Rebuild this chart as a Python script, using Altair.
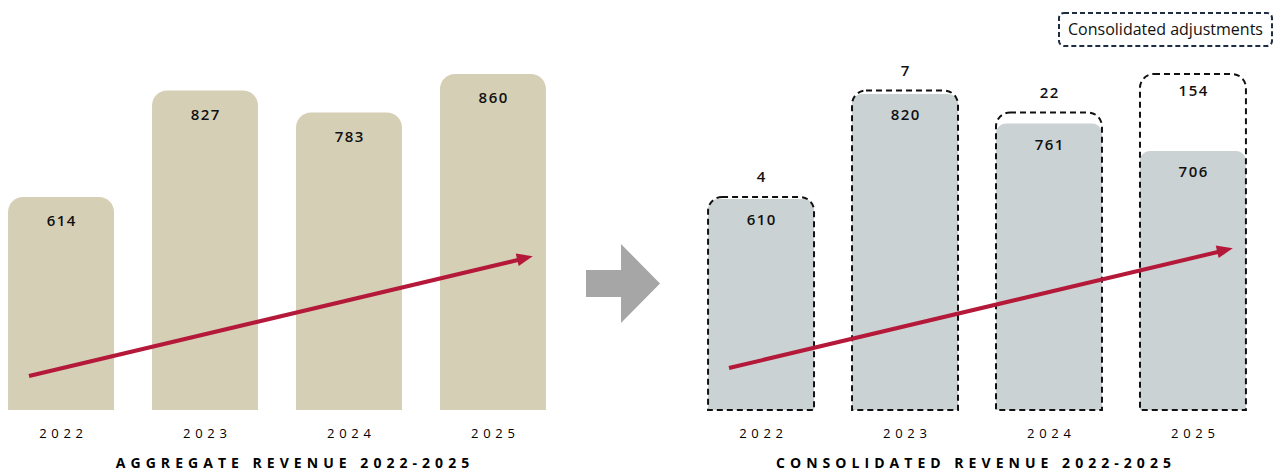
import altair as alt
import pandas as pd

# ---- data ----
years = ["2022", "2023", "2024", "2025"]
aggregate = [614, 827, 783, 860]
consolidated = [610, 820, 761, 706]
adjustments = [4, 7, 22, 154]
titles = ["AGGREGATE REVENUE 2022-2025", "CONSOLIDATED REVENUE 2022-2025"]
legend_label = "Consolidated adjustments"

# ---- style / layout ----
BASE, TOP = 188, 1008
PANEL_W, PANEL_H, GAP_W = 554, 410, 146
FONT = "Open Sans"
TAN, GREY, RED, ARROW_GREY = "#D5CFB6", "#CBD2D4", "#B5193A", "#A6A6A6"
INK, NAVY = "#111111", "#1F2D44"
SEP = " \u200a"


def spaced(s):
    return SEP.join(ch if ch != " " else "\u00a0" for ch in s)


def x_enc(title, title_x):
    return alt.X(
        "year:N",
        sort=years,
        scale=alt.Scale(paddingInner=0.264, paddingOuter=0.056),
        axis=alt.Axis(
            title=spaced(title), titleX=title_x, labelAngle=0, domain=False, ticks=False,
            tickSize=0, labelExpr="join(split(datum.label, ''), ' \u200a')",
            labelPadding=17, titlePadding=16,
            labelFont=FONT, labelFontSize=13, labelColor="#000000",
            titleFont=FONT, titleFontSize=14, titleFontWeight="bold", titleColor="#000000",
        ),
    )


yscale = alt.Scale(domain=[BASE, TOP], zero=False, nice=False)
SPACE_EXPR = "join(split(toString({f}), ''), '\u200a')"

# ---- left panel ----
left_df = pd.DataFrame({"year": years, "value": aggregate})
lbase = alt.Chart(left_df).transform_calculate(
    base=str(BASE), vlabel=SPACE_EXPR.format(f="datum.value")
)
left_bars = lbase.mark_bar(color=TAN, cornerRadiusTopLeft=15, cornerRadiusTopRight=15).encode(
    x=x_enc(titles[0], 292), y=alt.Y("value:Q", scale=yscale, axis=None), y2="base:Q"
)
left_text = lbase.mark_text(dy=24, font=FONT, fontSize=15, fontWeight=600, color=INK).encode(
    x="year:N", y=alt.Y("value:Q", scale=yscale), text="vlabel:N"
)


def trend_arrow(y0, y1, tipy):
    d = pd.DataFrame({"k": [0]})
    line = alt.Chart(d).mark_rule(color=RED, strokeWidth=4).encode(
        x=alt.value(29), x2=alt.value(522), y=alt.value(y0), y2=alt.value(y1)
    )
    head = alt.Chart(d).mark_point(
        shape="M-1,-0.8 L1,0 L-1,0.8 Z", size=256, filled=True, fill=RED, stroke=None,
        opacity=1, angle=346.8,
    ).encode(x=alt.value(525), y=alt.value(tipy))
    return line + head


left = alt.layer(left_bars, left_text, trend_arrow(376, 259, 258)).properties(
    width=PANEL_W, height=PANEL_H
)

# ---- middle arrow ----
mid = alt.Chart(pd.DataFrame({"k": [0]})).mark_point(
    shape="M-0.937,-0.34 L-0.05,-0.34 L-0.05,-1 L0.937,0 L-0.05,1 L-0.05,0.34 L-0.937,0.34 Z",
    size=6241, filled=True, fill=ARROW_GREY, stroke=None, opacity=1,
).encode(x=alt.value(69), y=alt.value(283.5)).properties(width=GAP_W, height=PANEL_H)

# ---- right panel ----
right_df = pd.DataFrame({"year": years, "cons": consolidated, "adj": adjustments})
rbase = alt.Chart(right_df).transform_calculate(
    base=str(BASE), total="datum.cons + datum.adj",
    clabel=SPACE_EXPR.format(f="datum.cons"), alabel=SPACE_EXPR.format(f="datum.adj"),
)
grey_bars = rbase.mark_bar(color=GREY, cornerRadiusTopLeft=10, cornerRadiusTopRight=10).encode(
    x=x_enc(titles[1], 273), y=alt.Y("cons:Q", scale=yscale, axis=None), y2="base:Q"
)
dash_boxes = rbase.mark_bar(
    fill="transparent", stroke=INK, strokeWidth=2, strokeDash=[6, 4],
    cornerRadiusTopLeft=14, cornerRadiusTopRight=14,
).encode(x="year:N", y=alt.Y("total:Q", scale=yscale), y2="base:Q")
cons_text = rbase.mark_text(dy=21, font=FONT, fontSize=15, fontWeight=600, color=INK).encode(
    x="year:N", y=alt.Y("cons:Q", scale=yscale), text="clabel:N"
)
adj_above = rbase.transform_filter("datum.adj < 50").mark_text(
    dy=-20, font=FONT, fontSize=15, fontWeight=600, color=INK
).encode(x="year:N", y=alt.Y("total:Q", scale=yscale), text="alabel:N")
adj_inside = rbase.transform_filter("datum.adj >= 50").mark_text(
    dy=17, font=FONT, fontSize=15, fontWeight=600, color=INK
).encode(x="year:N", y=alt.Y("total:Q", scale=yscale), text="alabel:N")

leg_d = pd.DataFrame({"label": [legend_label]})
leg_box = alt.Chart(leg_d).mark_rect(
    fill="transparent", stroke=NAVY, strokeWidth=2, strokeDash=[5, 3], cornerRadius=5
).encode(x=alt.value(359), x2=alt.value(572), y=alt.value(13), y2=alt.value(46))
leg_text = alt.Chart(leg_d).mark_text(
    font=FONT, fontSize=16, color=INK, align="center", baseline="middle"
).encode(x=alt.value(465.5), y=alt.value(29.5), text="label:N")

right = alt.layer(
    grey_bars, dash_boxes, cons_text, adj_above, adj_inside,
    trend_arrow(368, 251, 250), leg_box, leg_text,
).properties(width=PANEL_W, height=PANEL_H)

chart = (
    alt.hconcat(left, mid, right, spacing=0)
    .properties(padding=0)
    .configure_view(stroke=None)
    .configure_concat(spacing=0)
)

chart.save("out.html", embed_options={"renderer": "svg", "actions": False})
